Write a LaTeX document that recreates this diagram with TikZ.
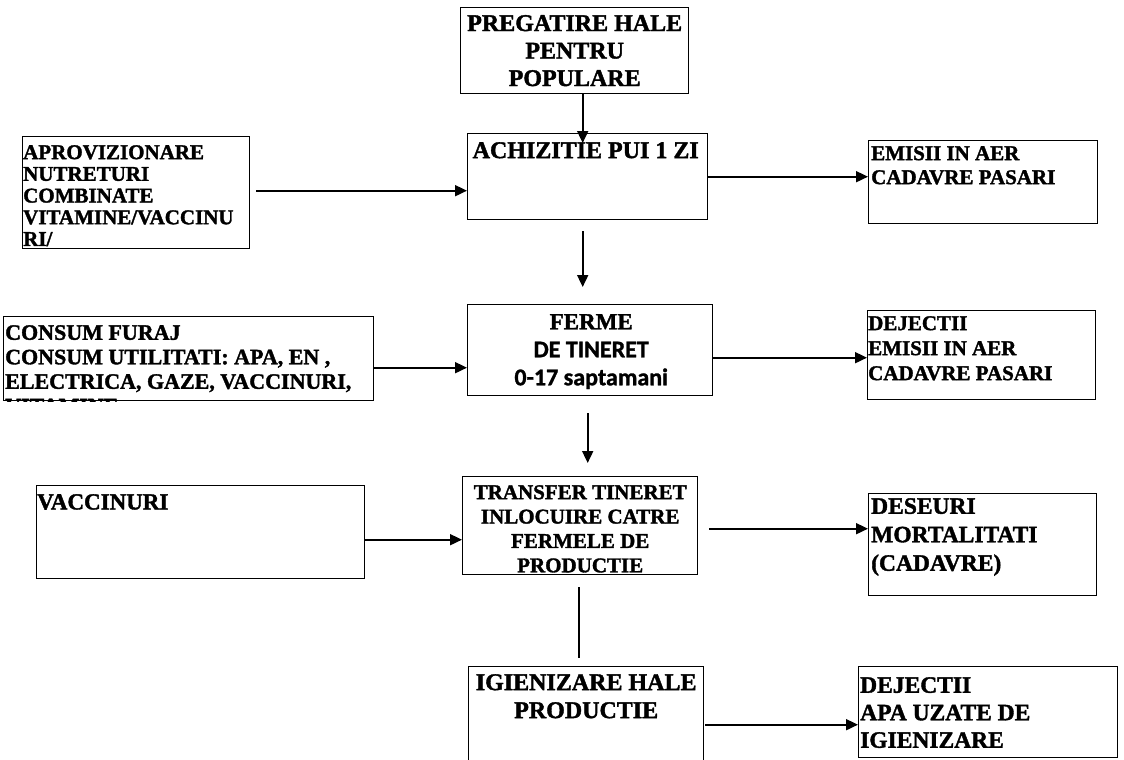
\documentclass[tikz,border=0pt]{standalone}
\usepackage{fontspec}
\setmainfont{Liberation Serif}[BoldFeatures={FakeBold=1.6}]
\newfontfamily\carlito{Carlito}[BoldFeatures={FakeBold=1.2}]
\usepackage{tikz}
\usetikzlibrary{arrows.meta, positioning}

\begin{document}
\begin{tikzpicture}[
    x=1pt, y=-1pt,
    box/.style={draw, line width=1.4pt, inner sep=0pt, anchor=north west},
    lbl/.style={inner sep=0pt, align=left},
    arr/.style={-{Triangle[length=12pt, width=11pt]}, line width=1.8pt},
    ln/.style={line width=1.8pt},
]

\path[use as bounding box, fill=white] (0,0) rectangle (1124,760);

% middle column
\node[box, minimum width=228pt, minimum height=86pt] (prep) at (460,7) {};
\node[box, minimum width=240pt, minimum height=86pt] (achiz) at (467,133) {};
\node[box, minimum width=245pt, minimum height=91pt] (ferme) at (467,304) {};
\node[box, minimum width=235pt, minimum height=98pt] (transf) at (462,476) {};
\node[box, minimum width=235pt, minimum height=116pt] (igien) at (468,666) {};

% inputs on the left
\node[box, minimum width=227pt, minimum height=112pt] (aprov) at (22,136) {};
\node[box, minimum width=370pt, minimum height=84pt] (consum) at (3,316) {};
\node[box, minimum width=328pt, minimum height=93pt] (vacc) at (36,485) {};

% outputs on the right
\node[box, minimum width=229pt, minimum height=83pt] (emis) at (868,140) {};
\node[box, minimum width=228pt, minimum height=89pt] (dej) at (867,310) {};
\node[box, minimum width=228pt, minimum height=102pt] (deseuri) at (868,493) {};
\node[box, minimum width=259pt, minimum height=91pt] (apauz) at (858,666) {};

% texts
\node[lbl, align=center, font={\fontsize{24}{27.5}\selectfont\bfseries}] (prepT) at (prep.center)
    {PREGATIRE HALE\\PENTRU\\POPULARE};
\node[lbl, anchor=north, font={\fontsize{24}{27.5}\selectfont\bfseries}] (achizT) at ([xshift=-2pt, yshift=-9pt]achiz.north)
    {ACHIZITIE PUI 1 ZI};
\node[lbl, anchor=north, align=center, font={\fontsize{23}{28}\selectfont\bfseries}] (fermeT) at ([xshift=1pt, yshift=-10pt]ferme.north)
    {FERME\\{\carlito\fontsize{24}{28}\selectfont DE TINERET}\\{\carlito\fontsize{24}{28}\selectfont 0-17 saptamani}};
\node[lbl, anchor=north, align=center, font={\fontsize{21}{24.4}\selectfont\bfseries}] (transfT) at ([yshift=-9pt]transf.north)
    {TRANSFER TINERET\\INLOCUIRE CATRE\\FERMELE DE\\PRODUCTIE};
\node[lbl, anchor=north, align=center, font={\fontsize{24}{28}\selectfont\bfseries}] (igienT) at ([yshift=-8pt]igien.north)
    {IGIENIZARE HALE\\PRODUCTIE};

\begin{scope}
\clip (aprov.north west) rectangle (aprov.south east);
\node[lbl, anchor=north west, font={\fontsize{21}{21.7}\selectfont\bfseries}] (aprovT) at ([xshift=1pt, yshift=-9pt]aprov.north west)
    {APROVIZIONARE\\NUTRETURI\\COMBINATE\\VITAMINE/VACCINU\\RI/};
\end{scope}
\begin{scope}
\clip (consum.north west) rectangle (consum.south east);
\node[lbl, anchor=north west, font={\fontsize{22}{24.5}\selectfont\bfseries}] (consumT) at ([xshift=2pt, yshift=-9pt]consum.north west)
    {CONSUM FURAJ\\CONSUM UTILITATI: APA, EN ,\\ELECTRICA, GAZE, VACCINURI,\\VITAMINE};
\end{scope}
\node[lbl, anchor=north west, font={\fontsize{23}{28}\selectfont\bfseries}] (vaccT) at ([xshift=1pt, yshift=-9pt]vacc.north west)
    {VACCINURI};

\node[lbl, anchor=north west, font={\fontsize{21}{24}\selectfont\bfseries}] (emisT) at ([xshift=3pt, yshift=-6pt]emis.north west)
    {EMISII IN AER\\CADAVRE PASARI};
\node[lbl, anchor=north west, font={\fontsize{21}{25}\selectfont\bfseries}] (dejT) at ([xshift=1pt, yshift=-6pt]dej.north west)
    {DEJECTII\\EMISII IN AER\\CADAVRE PASARI};
\node[lbl, anchor=north west, font={\fontsize{23.5}{28.5}\selectfont\bfseries}] (deseuriT) at ([xshift=3pt, yshift=-5pt]deseuri.north west)
    {DESEURI\\MORTALITATI\\(CADAVRE)};
\node[lbl, anchor=north west, font={\fontsize{23.5}{27.5}\selectfont\bfseries}] (apauzT) at ([xshift=2pt, yshift=-11pt]apauz.north west)
    {DEJECTII\\APA UZATE DE\\IGIENIZARE};

% connectors
\draw[arr] ([xshift=8pt]prep.south) -- ([xshift=-5pt, yshift=-10pt]achiz.north);
\draw[arr] ([xshift=6pt, yshift=2pt]aprov.east) -- ([yshift=-14pt]achiz.west);
\draw[arr] (achiz.east) -- ([yshift=5.5pt]emis.west);
\draw[arr] ([xshift=-5pt, yshift=-11pt]achiz.south) -- ([xshift=-7.5pt, yshift=17pt]ferme.north);

\draw[arr] ([yshift=-9pt]consum.east) -- ([yshift=-17.5pt]ferme.west);
\draw[arr] ([yshift=-7.5pt]ferme.east) -- ([yshift=-2.5pt]dej.west);
\draw[arr] ([xshift=-2.5pt, yshift=-17pt]ferme.south) -- ([xshift=7.5pt, yshift=13pt]transf.north);

\draw[arr] ([yshift=-7.5pt]vacc.east) -- ([yshift=-14pt]transf.west);
\draw[arr] ([xshift=11pt, yshift=-3pt]transf.east) -- ([yshift=16pt]deseuri.west);
\draw[ln] ([xshift=-1.5pt, yshift=-12pt]transf.south) -- ([xshift=-7.5pt, yshift=8pt]igien.north);
\draw[arr] ([xshift=1pt]igien.east) -- ([yshift=-12.5pt]apauz.west);

\end{tikzpicture}
\end{document}
